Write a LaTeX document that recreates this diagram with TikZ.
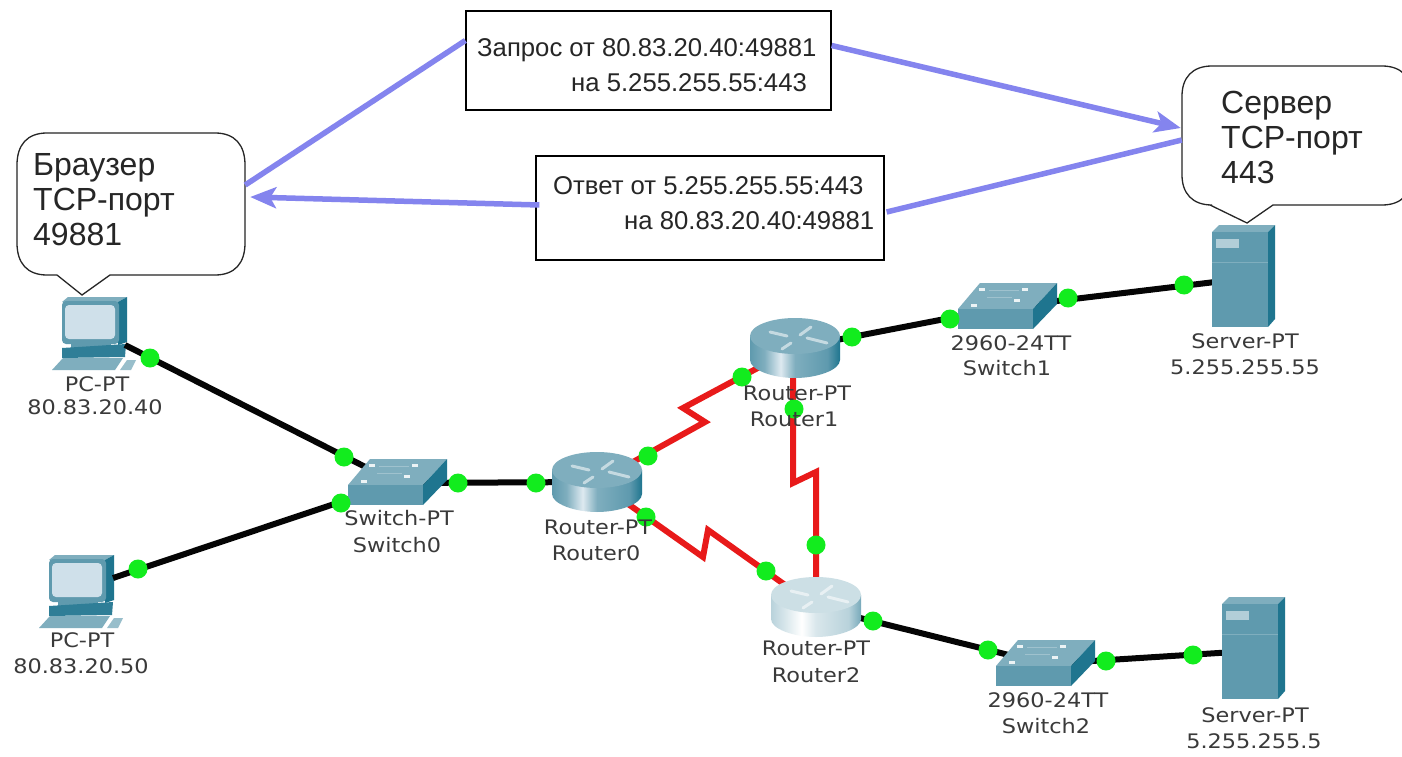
\documentclass[tikz,border=0pt]{standalone}
\usepackage{fontspec}
\setmainfont{Liberation Sans}
\newfontfamily\lblfont[FakeStretch=1.12]{DejaVu Sans}
\usetikzlibrary{arrows.meta,shapes.geometric}
\definecolor{tealfront}{HTML}{5F9AAE}
\definecolor{tealtop}{HTML}{7FAEBE}
\definecolor{tealside}{HTML}{1F758F}
\definecolor{scr}{HTML}{CFE0EA}
\definecolor{flow}{HTML}{8484EE}
\definecolor{lan}{HTML}{050505}
\definecolor{wan}{HTML}{E81A1A}
\definecolor{led}{HTML}{12EC1E}
\definecolor{lbltxt}{HTML}{3A3A3A}
\pgfdeclarehorizontalshading{rtrbodyx}{100bp}{
 color(0bp)=(tealfront); color(25bp)=(tealfront); color(33bp)=(tealtop); color(42bp)=(scr!70!white);
 color(50bp)=(tealtop); color(68bp)=(tealfront); color(75bp)=(tealside); color(100bp)=(tealfront)}
\pgfdeclarehorizontalshading{rtrbodylight}{100bp}{
 color(0bp)=(tealtop!55!white); color(25bp)=(tealtop!55!white); color(33bp)=(tealtop!30!white); color(42bp)=(white);
 color(50bp)=(tealtop!30!white); color(68bp)=(tealtop!55!white); color(75bp)=(tealfront!85!white); color(100bp)=(tealtop!55!white)}
\tikzset{
 lanlink/.style={draw=lan,line width=6pt},
 wanlink/.style={draw=wan,line width=6pt,line join=miter},
 flowline/.style={draw=flow,line width=5.5pt},
 flowarrow/.style={flowline,-{Stealth[length=26pt,width=21pt,inset=6pt]}},
 ledpt/.style={circle,fill=led,draw=none,minimum size=19pt,inner sep=0pt},
 anchorbox/.style={draw=none,inner sep=0pt,minimum size=2pt},
 devlabel/.style={font=\lblfont\fontsize{20}{22}\selectfont,text=lbltxt,inner sep=0pt,anchor=center},
 bubbletxt/.style={font=\fontsize{32}{35}\selectfont,text=black!85,align=left,inner sep=0pt,anchor=north west},
 boxtxt/.style={font=\fontsize{25.7}{28}\selectfont,text=black!85,inner sep=0pt,anchor=west},
 msgbox/.style={draw=black,line width=1.3pt,fill=white,inner sep=0pt},
 bubble/.style={draw=black!85,line width=1.3pt,fill=white},
}
\newcommand{\swdev}[2]{\begin{scope}[shift={(#1,#2)}]
 \fill[tealtop] (-49,2)--(-27,-24)--(50,-24)--(26,2)--cycle;
 \fill[tealfront] (-49,2) rectangle (26,22);
 \fill[tealside] (26,2)--(50,-24)--(50,-3)--(26,22)--cycle;
 \foreach \a/\b in {-33/-2,-25/-18,18/-18,10/-7}{\fill[white!85!tealtop] (\a-3,\b-1.5) rectangle (\a+3,\b+1.5);}
 \draw[tealfront!60!white,line width=1pt] (-20,-10)--(5,-10) (-18,-17)--(12,-17);
\end{scope}}
\newcommand{\rtrdev}[4]{\begin{scope}[shift={(#1,#2)}]
 \path[shading=#3] (-45,-12) -- (-45,12) .. controls (-45,22) and (-22,30) .. (0,30) .. controls (22,30) and (45,22) .. (45,12) -- (45,-12) -- cycle;
 \fill[#4] (0,-12) ellipse [x radius=45,y radius=18];
 \draw[white,opacity=.55,line width=3pt,line cap=round]
   (-25,-16)--(-8,-12) (-4,-5)--(-13,1) (16,-21)--(5,-13) (12,-10)--(32,-5);
\end{scope}}
\newcommand{\pcdev}[2]{\begin{scope}[shift={(#1,#2)}]
 \fill[tealtop] (-33,-28)--(-27,-33)--(32,-33)--(23,-28)--cycle;
 \fill[tealside] (23,-28)--(32,-33)--(32,12)--(23,15)--cycle;
 \fill[tealfront,rounded corners=4pt] (-33,-29) rectangle (24,14);
 \fill[scr,rounded corners=4pt] (-30,-25) rectangle (20,9);
 \fill[tealfront] (-24,14) rectangle (16,18);
 \fill[tealside!75!tealfront] (-33,18)--(31,14)--(30,27)--(-33,28)--cycle;
 \fill[tealtop] (-43,40)--(-32,28)--(28,28)--(20,40)--cycle;
 \fill[tealtop!80!white] (25,40)--(32,30)--(41,30)--(36,40)--cycle;
\end{scope}}
\newcommand{\srvdev}[2]{\begin{scope}[shift={(#1,#2)}]
 \fill[tealtop] (-28,-47)--(-21,-54)--(35,-54)--(28,-47)--cycle;
 \fill[tealside] (28,-47)--(35,-54)--(35,40)--(28,48)--cycle;
 \fill[tealfront] (-28,-47) rectangle (28,48);
 \fill[tealtop!60!white] (-24,-40) rectangle (-1,-31);
 \draw[tealtop,line width=.8pt] (-28,-17)--(28,-17);
\end{scope}}
\begin{document}
\begin{tikzpicture}[x=1pt,y=-1pt]
\useasboundingbox (0,0) rectangle (1402,757);
\clip (0,0) rectangle (1402,757);
\fill[white] (0,0) rectangle (1402,757);
% anchor nodes of the devices
\node[anchorbox] (pc0) at (125,345) {};
\node[anchorbox] (pc1) at (113,578) {};
\node[anchorbox] (sw0) at (397,483) {};
\node[anchorbox] (sw1) at (1007,307) {};
\node[anchorbox] (sw2) at (1045,664) {};
\node[anchorbox] (r0) at (597,482) {};
\node[anchorbox] (r1) at (795,348) {};
\node[anchorbox] (r2) at (816,607) {};
\node[anchorbox] (srv1) at (1240,279) {};
\node[anchorbox] (srv2) at (1250,651) {};
\coordinate (z1) at (705,422); \coordinate (z2) at (683,408);
\coordinate (z3) at (793,483); \coordinate (z4) at (816,472);
\coordinate (z5) at (703,557); \coordinate (z6) at (708,530);
% devices under the links' ends
\pcdev{95}{330}
\pcdev{82}{588}
% links
\draw[lanlink] (pc0.center)--(sw0.center);
\draw[lanlink] (pc1.center)--(sw0.center);
\draw[lanlink] (sw0.center)--(r0.center);
\draw[lanlink] (r1.center)--(sw1.center);
\draw[lanlink] (sw1.center)--(srv1.center);
\draw[lanlink] (r2.center)--(sw2.center);
\draw[lanlink] (sw2.center)--(srv2.center);
\draw[wanlink] (r0.center)--(z1)--(z2)--(r1.center);
\draw[wanlink] (793,348)--(z3)--(z4)--(816,607);
\draw[wanlink] (r0.center)--(z5)--(z6)--(r2.center);
% devices
\swdev{397}{483}
\swdev{1007}{307}
\swdev{1045}{664}
\rtrdev{597}{482}{rtrbodyx}{tealtop}
\rtrdev{795}{348}{rtrbodyx}{tealtop}
\rtrdev{816}{607}{rtrbodylight}{tealtop!40!white}
\srvdev{1240}{279}
\srvdev{1250}{651}
% status lights
\foreach \n/\x/\y in {a/150/358,b/344/457,c/138/569,d/341/503,e/458/483,f/536/483,
  g/648/456,h/742/377,i/646/517,j/766/571,k/794/409,l/816/545,m/852/337,n/950/319,
  o/1068/298,p/1184/285,q/873/621,s/988/650,t/1106/661,u/1193/655}
 {\node[ledpt] (led\n) at (\x,\y) {};}
% device labels
\node[devlabel] (l1) at (97,384) {PC-PT};
\node[devlabel] (l2) at (95,407) {80.83.20.40};
\node[devlabel] (l3) at (82,640) {PC-PT};
\node[devlabel] (l4) at (81,666) {80.83.20.50};
\node[devlabel] (l5) at (399,518) {Switch-PT};
\node[devlabel] (l6) at (397,545) {Switch0};
\node[devlabel] (l7) at (598,527) {Router-PT};
\node[devlabel] (l8) at (596,553) {Router0};
\node[devlabel] (l9) at (797,393) {Router-PT};
\node[devlabel] (l10) at (794,419) {Router1};
\node[devlabel] (l11) at (816,648) {Router-PT};
\node[devlabel] (l12) at (816,675) {Router2};
\node[devlabel] (l13) at (1011,343) {2960-24TT};
\node[devlabel] (l14) at (1007,368) {Switch1};
\node[devlabel] (l15) at (1048,700) {2960-24TT};
\node[devlabel] (l16) at (1046,726) {Switch2};
\node[devlabel] (l17) at (1245,341) {Server-PT};
\node[devlabel] (l18) at (1245,367) {5.255.255.55};
\node[devlabel] (l19) at (1255,715) {Server-PT};
\node[devlabel] (l20) at (1254,741) {5.255.255.5};
% callouts
\draw[bubble] (47,133)--(215,133) .. controls (235,133) and (245,145) .. (245,165)
  --(245,243) .. controls (245,263) and (235,275) .. (215,275)
  --(110,275)--(82,295)--(57,275)--(47,275) .. controls (27,275) and (17,263) .. (17,243)
  --(17,165) .. controls (17,145) and (27,133) .. (47,133)--cycle;
\node[anchorbox,minimum width=228pt,minimum height=142pt] (browser) at (131,204) {};
\node[bubbletxt] (browsertxt) at (33,153) {Браузер\\TCP-порт\\49881};
\draw[bubble] (1212,66)--(1382,66) .. controls (1402,66) and (1412,78) .. (1412,96)
  --(1412,175) .. controls (1412,193) and (1402,205) .. (1382,205)
  --(1273,205)--(1247,223)--(1210,205)--(1212,205) .. controls (1192,205) and (1182,193) .. (1182,175)
  --(1182,96) .. controls (1182,78) and (1192,66) .. (1212,66)--cycle;
\node[anchorbox,minimum width=230pt,minimum height=139pt] (server) at (1297,135) {};
\node[bubbletxt] (servertxt) at (1221,91) {Сервер\\TCP-порт\\443};
% message boxes
\node[msgbox,minimum width=365pt,minimum height=99pt] (b1) at (648.5,60.5) {};
\node[boxtxt] (b1a) at (477,50) {Запрос от 80.83.20.40:49881};
\node[boxtxt] (b1b) at (571,83) {на 5.255.255.55:443};
\node[msgbox,minimum width=348pt,minimum height=104pt] (b2) at (710,208) {};
\node[boxtxt] (b2a) at (553,186) {Ответ от 5.255.255.55:443};
\node[boxtxt] (b2b) at (624,221) {на 80.83.20.40:49881};
% flows
\draw[flowline] ([yshift=19pt]browser.east)--([yshift=20pt]b1.west);
\draw[flowarrow] ([yshift=15pt]b1.east)--([yshift=7pt,xshift=-1pt]server.west);
\draw[flowline] ([yshift=-5pt]server.west)--([yshift=-4pt,xshift=2pt]b2.east);
\draw[flowarrow] ([yshift=3pt,xshift=4pt]b2.west)--([yshift=7pt,xshift=5pt]browser.east);
\end{tikzpicture}
\end{document}
